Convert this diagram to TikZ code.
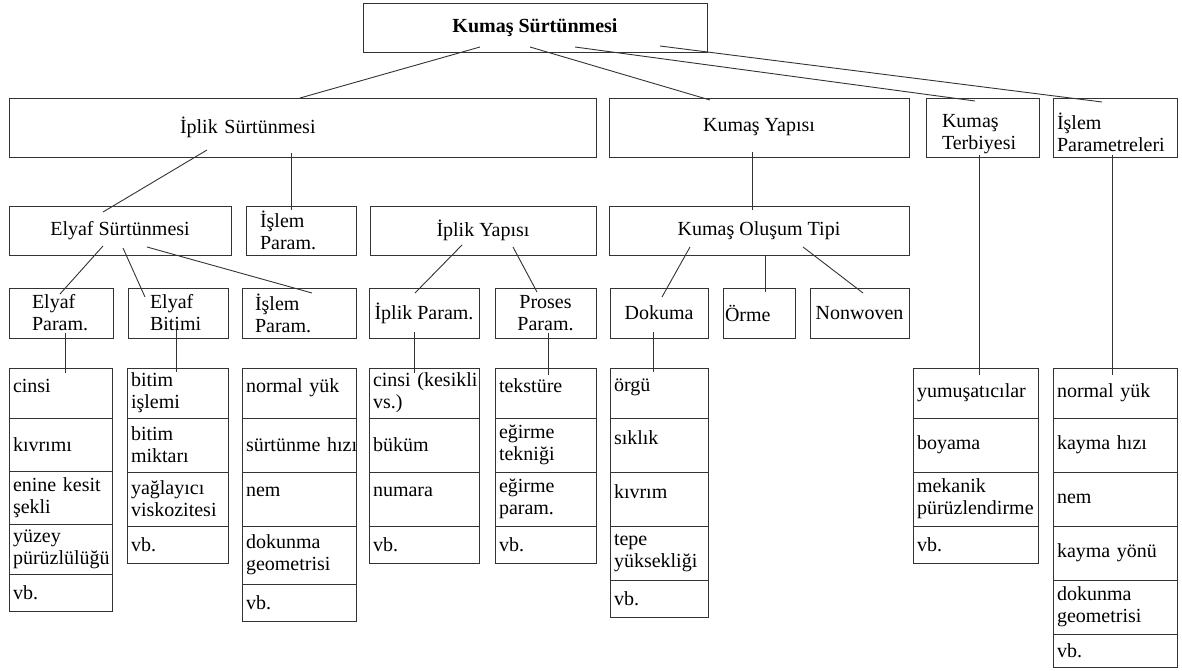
\documentclass[tikz,border=0pt]{standalone}
\usepackage{fontspec}
\setmainfont{Liberation Serif}
\usetikzlibrary{positioning}
\hyphenpenalty=10000
\exhyphenpenalty=10000

\tikzset{
  box/.style={draw=black!80, line width=0.9pt, outer sep=0pt, inner xsep=2pt, inner ysep=0pt, align=center},
  lbox/.style={box, align=left},
  cell/.style={box, align=left, inner xsep=4pt, text width=#1},
  hi/.style={text depth=15pt},
  lo/.style={text height=27pt},
  link/.style={draw=black!80, line width=0.9pt},
}

\begin{document}
\begin{tikzpicture}[x=1pt, y=-1pt, font=\fontsize{20}{22}\selectfont]
  \useasboundingbox (0,0) rectangle (1182,671);

  % ust kutu
  \node[box, minimum width=344, minimum height=49, font=\fontsize{20}{22}\selectfont\bfseries] (ks) at (535,27.5) {Kumaş Sürtünmesi};

  % ikinci sira
  \node[lbox, inner xsep=171pt, text width=245pt, minimum height=59] (is) at (302.5,127.5) {İplik Sürtünmesi};
  \node[box, minimum width=300, minimum height=59] (ky) at (759,127.5) {Kumaş Yapısı};
  \node[lbox, lo, inner xsep=16pt, text width=81pt, minimum height=59] (kt) at (982.5,127.5) {Kumaş\\Terbiyesi};
  \node[lbox, lo, inner xsep=4pt, text width=116pt, minimum height=59] (ip) at (1115,127.5) {İşlem\\Parametreleri};

  % ucuncu sira
  \node[box, minimum width=222, minimum height=49] (es) at (120,230.5) {Elyaf Sürtünmesi};
  \node[lbox, inner xsep=14pt, text width=82pt, minimum height=49] (ipr1) at (301,230.5) {İşlem\\Param.};
  \node[box, minimum width=226, minimum height=49] (iy) at (483,230.5) {İplik Yapısı};
  \node[box, minimum width=300, minimum height=49] (kot) at (759,230.5) {Kumaş Oluşum Tipi};

  % dorduncu sira
  \node[lbox, inner xsep=23pt, text width=58pt, minimum height=50] (ep) at (61,313) {Elyaf\\Param.};
  \node[lbox, inner xsep=22pt, text width=56pt, minimum height=50] (eb) at (178,313) {Elyaf\\Bitimi};
  \node[lbox, inner xsep=13pt, text width=88pt, minimum height=50] (ipr2) at (299,313) {İşlem\\Param.};
  \node[box, minimum width=110, minimum height=50] (ipa) at (424,313) {İplik Param.};
  \node[box, minimum width=101, minimum height=50] (pp) at (545.5,313) {Proses\\Param.};
  \node[box, minimum width=98, minimum height=50] (dok) at (659,313) {Dokuma};
  \node[lbox, inner xsep=2pt, text width=68pt, minimum height=50] (orm) at (759,313) {Örme};
  \node[box, minimum width=99, minimum height=50] (nw) at (859.5,313) {Nonwoven};

  % tablolar
  \node[cell=95pt, minimum height=50, hi] (c1a) at (60.5,393) {cinsi};
  \node[cell=95pt, minimum height=53, below=0pt of c1a] (c1b) {kıvrımı};
  \node[cell=95pt, minimum height=53, below=0pt of c1b] (c1c) {\mbox{enine kesit}\\şekli};
  \node[cell=95pt, minimum height=50, below=0pt of c1c] (c1d) {yüzey\\pürüzlülüğü};
  \node[cell=95pt, minimum height=37, below=0pt of c1d] (c1e) {vb.};

  \node[cell=93pt, minimum height=50] (c2a) at (177.5,393) {bitim\\işlemi};
  \node[cell=93pt, minimum height=54, below=0pt of c2a] (c2b) {bitim\\miktarı};
  \node[cell=93pt, minimum height=54, below=0pt of c2b] (c2c) {yağlayıcı\\viskozitesi};
  \node[cell=93pt, minimum height=37, below=0pt of c2c] (c2d) {vb.};

  \node[cell=106pt, minimum height=50, hi] (c3a) at (299,393) {\mbox{normal yük}};
  \node[cell=106pt, minimum height=54, below=0pt of c3a] (c3b) {\mbox{sürtünme hızı}};
  \node[cell=106pt, minimum height=54, hi, below=0pt of c3b] (c3c) {nem};
  \node[cell=106pt, minimum height=58, below=0pt of c3c] (c3d) {dokunma\\geometrisi};
  \node[cell=106pt, minimum height=37, below=0pt of c3d] (c3e) {vb.};

  \node[cell=102pt, minimum height=50] (c4a) at (424,393) {\mbox{cinsi (kesikli}\\vs.)};
  \node[cell=102pt, minimum height=54, below=0pt of c4a] (c4b) {büküm};
  \node[cell=102pt, minimum height=54, hi, below=0pt of c4b] (c4c) {numara};
  \node[cell=102pt, minimum height=37, below=0pt of c4c] (c4d) {vb.};

  \node[cell=93pt, minimum height=50, hi] (c5a) at (545.5,393) {tekstüre};
  \node[cell=93pt, minimum height=54, below=0pt of c5a] (c5b) {eğirme\\tekniği};
  \node[cell=93pt, minimum height=54, below=0pt of c5b] (c5c) {eğirme\\param.};
  \node[cell=93pt, minimum height=37, below=0pt of c5c] (c5d) {vb.};

  \node[cell=90pt, minimum height=50, hi] (c6a) at (659,393) {örgü};
  \node[cell=90pt, minimum height=54, hi, below=0pt of c6a] (c6b) {sıklık};
  \node[cell=90pt, minimum height=54, hi, below=0pt of c6b] (c6c) {kıvrım};
  \node[cell=90pt, minimum height=54, below=0pt of c6c] (c6d) {tepe\\yüksekliği};
  \node[cell=90pt, minimum height=37, below=0pt of c6d] (c6e) {vb.};

  \node[cell=117pt, minimum height=50] (c7a) at (975.5,393) {yumuşatıcılar};
  \node[cell=117pt, minimum height=54, below=0pt of c7a] (c7b) {boyama};
  \node[cell=117pt, minimum height=54, below=0pt of c7b] (c7c) {mekanik\\pürüzlendirme};
  \node[cell=117pt, minimum height=37, below=0pt of c7c] (c7d) {vb.};

  \node[cell=116pt, minimum height=50] (c8a) at (1115,393) {\mbox{normal yük}};
  \node[cell=116pt, minimum height=54, below=0pt of c8a] (c8b) {\mbox{kayma hızı}};
  \node[cell=116pt, minimum height=54, below=0pt of c8b] (c8c) {nem};
  \node[cell=116pt, minimum height=54, below=0pt of c8c] (c8d) {\mbox{kayma yönü}};
  \node[cell=116pt, minimum height=54, below=0pt of c8d] (c8e) {dokunma\\geometrisi};
  \node[cell=116pt, minimum height=33, below=0pt of c8e] (c8f) {vb.};

  % baglantilar
  \draw[link] ([xshift=-55pt,yshift=5pt]ks.south) -- ([xshift=-2.5pt]is.north);
  \draw[link] ([xshift=-5pt,yshift=5pt]ks.south) -- ([xshift=-49pt,yshift=-2pt]ky.north);
  \draw[link] ([xshift=40pt,yshift=5pt]ks.south) -- ([xshift=-7.5pt,yshift=-3pt]kt.north);
  \draw[link] ([xshift=125pt,yshift=6pt]ks.south) -- ([xshift=-13pt,yshift=-4pt]ip.north);

  \draw[link] ([xshift=-95.5pt,yshift=7pt]is.south) -- ([xshift=-17pt,yshift=-6pt]es.north);
  \draw[link] ([xshift=-11.5pt,yshift=4pt]is.south) -- ([xshift=-10pt,yshift=-4pt]ipr1.north);
  \draw[link] ([xshift=-7pt,yshift=5pt]ky.south) -- ([xshift=-7pt,yshift=-4pt]kot.north);
  \draw[link] ([xshift=-3.5pt,yshift=2pt]kt.south) -- ([xshift=3.5pt,yshift=-7pt]c7a.north);
  \draw[link] ([xshift=-3pt,yshift=2pt]ip.south) -- ([xshift=-3pt,yshift=-7pt]c8a.north);

  \draw[link] ([xshift=-17pt,yshift=9pt]es.south) -- ([xshift=-1pt,yshift=-6pt]ep.north);
  \draw[link] ([xshift=3pt,yshift=7pt]es.south) -- ([xshift=-33pt,yshift=-9pt]eb.north);
  \draw[link] ([xshift=27pt,yshift=8pt]es.south) -- ([xshift=13pt,yshift=-5pt]ipr2.north);
  \draw[link] ([xshift=-21pt,yshift=10pt]iy.south) -- ([xshift=-9pt,yshift=-5pt]ipa.north);
  \draw[link] ([xshift=30pt,yshift=8pt]iy.south) -- ([xshift=-8.5pt,yshift=-4pt]pp.north);
  \draw[link] ([xshift=-69pt,yshift=8pt]kot.south) -- ([xshift=3pt,yshift=-9pt]dok.north);
  \draw[link] ([xshift=6pt]kot.south) -- ([xshift=6pt,yshift=-4pt]orm.north);
  \draw[link] ([xshift=44pt,yshift=8pt]kot.south) -- ([xshift=3.5pt,yshift=-5pt]nw.north);

  \draw[link] ([xshift=4pt,yshift=5pt]ep.south) -- ([xshift=4.5pt,yshift=-5pt]c1a.north);
  \draw[link] ([xshift=-2pt,yshift=8pt]eb.south) -- ([xshift=-1.5pt,yshift=-4pt]c2a.north);
  \draw[link] ([xshift=-10pt,yshift=6pt]ipa.south) -- ([xshift=-10pt,yshift=-5pt]c4a.north);
  \draw[link] ([xshift=2.5pt,yshift=5pt]pp.south) -- ([xshift=2.5pt,yshift=-7pt]c5a.north);
  \draw[link] ([xshift=-6pt,yshift=6pt]dok.south) -- ([xshift=-6pt,yshift=-4pt]c6a.north);
\end{tikzpicture}
\end{document}
